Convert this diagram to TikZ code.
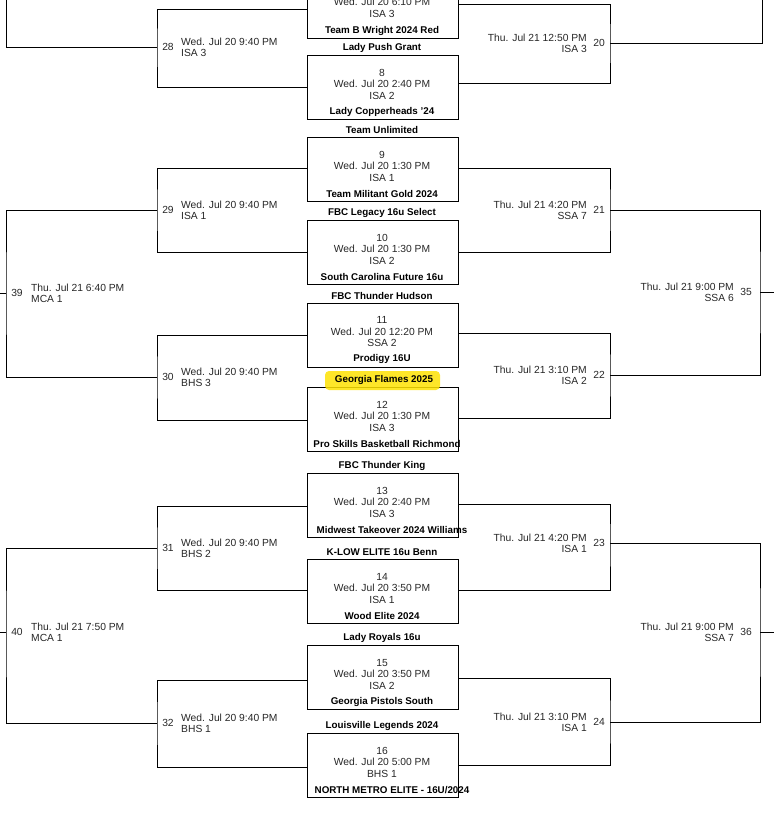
\documentclass[tikz,border=0pt]{standalone}
\usepackage{fontspec}
\setmainfont{Liberation Sans}
\begin{document}
\begin{tikzpicture}[x=1pt,y=-1pt,
  box/.style={draw,line width=0.9pt,minimum width=151pt,minimum height=64pt,anchor=north west,inner sep=0},
  info/.style={font=\fontsize{10.3}{11.5}\selectfont,align=center,inner sep=0,text=black!85},
  team/.style={font=\fontsize{9.8}{11}\selectfont\bfseries,inner sep=0},
  lab/.style={font=\fontsize{10.3}{11}\selectfont,align=left,anchor=west,inner sep=0,text=black!85},
  rlab/.style={font=\fontsize{10.3}{11}\selectfont,align=right,anchor=east,inner sep=0,text=black!85},
  num/.style={font=\fontsize{10.3}{11}\selectfont,inner sep=0,text=black!85},
  ln/.style={line width=0.9pt}]
\useasboundingbox (0,0) rectangle (774,817);
% boxes
\foreach \n/\t in {7/-26,8/55,9/137,10/220,11/303,12/387,13/473,14/559,15/645,16/733}
  \node[box] (b\n) at (307,\t) {};
% box contents
\node[info] at (382,8) {Wed. Jul 20 6:10 PM\\ISA 3};
\node[team] at (382,31) {Team B Wright 2024 Red};
\node[info] at (382,84) {8\\Wed. Jul 20 2:40 PM\\ISA 2};
\node[team] at (382,112) {Lady Copperheads '24};
\node[info] at (382,166) {9\\Wed. Jul 20 1:30 PM\\ISA 1};
\node[team] at (382,194) {Team Militant Gold 2024};
\node[info] at (382,249) {10\\Wed. Jul 20 1:30 PM\\ISA 2};
\node[team] at (382,277) {South Carolina Future 16u};
\node[info] at (382,332) {11\\Wed. Jul 20 12:20 PM\\SSA 2};
\node[team] at (382,359) {Prodigy 16U};
\node[info] at (382,416) {12\\Wed. Jul 20 1:30 PM\\ISA 3};
\node[team] at (387,444) {Pro Skills Basketball Richmond};
\node[info] at (382,502) {13\\Wed. Jul 20 2:40 PM\\ISA 3};
\node[team] at (392,530) {Midwest Takeover 2024 Williams};
\node[info] at (382,588) {14\\Wed. Jul 20 3:50 PM\\ISA 1};
\node[team] at (382,616) {Wood Elite 2024};
\node[info] at (382,674) {15\\Wed. Jul 20 3:50 PM\\ISA 2};
\node[team] at (382,702) {Georgia Pistols South};
\node[info] at (382,762) {16\\Wed. Jul 20 5:00 PM\\BHS 1};
\node[team] at (392,790) {NORTH METRO ELITE - 16U/2024};
% teams between boxes
\node[team] at (382,48) {Lady Push Grant};
\node[team] at (382,130) {Team Unlimited};
\node[team] at (382,213) {FBC Legacy 16u Select};
\node[team] at (382,296) {FBC Thunder Hudson};
\fill[yellow!85!orange, opacity=0.85, rounded corners=4pt] (325,371) rectangle (440,390);
\node[team] at (384,380) {Georgia Flames 2025};
\node[team] at (382,466) {FBC Thunder King};
\node[team] at (382,552) {K-LOW ELITE 16u Benn};
\node[team] at (382,638) {Lady Royals 16u};
\node[team] at (382,726) {Louisville Legends 2024};
% left round 2
\foreach \m/\c in {28/47,29/210,30/377,31/548,32/723}
  \coordinate (m\m) at (157,\c);
\draw[ln] (b7.west |- 0,9) -| (m28) |- (b8.west |- 0,87);
\draw[ln] (b9.west |- 0,168) -| (m29) |- (b10.west |- 0,252);
\draw[ln] (b11.west |- 0,335) -| (m30) |- (b12.west |- 0,420);
\draw[ln] (b13.west |- 0,506) -| (m31) |- (b14.west |- 0,590);
\draw[ln] (b15.west |- 0,680) -| (m32) |- (b16.west |- 0,767);
\coordinate (ltop) at (6,0);
\coordinate (m39) at (6,293);
\coordinate (m40) at (6,632);
\draw[ln] (m28) -| (ltop);
\draw[ln] (m29) -| (m39) |- (m30);
\draw[ln] (m31) -| (m40) |- (m32);
\draw[ln] (m39) -- (0,293);
\draw[ln] (m40) -- (0,632);
\foreach \m/\y/\t in {28/47/ISA 3,29/210/ISA 1,30/377/BHS 3,31/548/BHS 2,32/723/BHS 1}{
  \node[num] at (168,\y) {\m};
  \node[lab] at (181,\y) {Wed. Jul 20 9:40 PM\\\t};}
\node[num] at (17,293) {39};
\node[lab] at (31,293) {Thu. Jul 21 6:40 PM\\MCA 1};
\node[num] at (17,632) {40};
\node[lab] at (31,632) {Thu. Jul 21 7:50 PM\\MCA 1};
% right round 2
\foreach \m/\c in {20/43,21/210,22/375,23/543,24/722}
  \coordinate (m\m) at (610,\c);
\draw[ln] (b7.east |- 0,4) -| (m20) |- (b8.east |- 0,83);
\draw[ln] (b9.east |- 0,168) -| (m21) |- (b10.east |- 0,252);
\draw[ln] (b11.east |- 0,333) -| (m22) |- (b12.east |- 0,418);
\draw[ln] (b13.east |- 0,504) -| (m23) |- (b14.east |- 0,590);
\draw[ln] (b15.east |- 0,678) -| (m24) |- (b16.east |- 0,765);
\coordinate (rtop) at (762,0);
\coordinate (m35) at (760,292);
\coordinate (m36) at (760,632);
\draw[ln] (m20) -| (rtop);
\draw[ln] (m21) -| (m35) |- (m22);
\draw[ln] (m23) -| (m36) |- (m24);
\draw[ln] (m35) -- (774,292);
\draw[ln] (m36) -- (774,632);
\foreach \m/\y/\d/\t in {20/43/12:50/ISA 3,21/210/4:20/SSA 7,22/375/3:10/ISA 2,23/543/4:20/ISA 1,24/722/3:10/ISA 1}{
  \node[num] at (599,\y) {\m};
  \node[rlab] at (587,\y) {Thu. Jul 21 \d\ PM\\\t};}
\node[num] at (746,292) {35};
\node[rlab] at (734,292) {Thu. Jul 21 9:00 PM\\SSA 6};
\node[num] at (746,632) {36};
\node[rlab] at (734,632) {Thu. Jul 21 9:00 PM\\SSA 7};
\end{tikzpicture}
\end{document}
